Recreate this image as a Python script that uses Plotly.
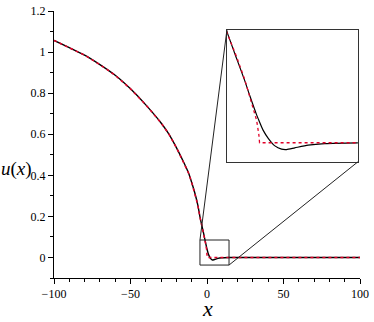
import plotly.graph_objects as go

# ---- data ----
x_black = [-100, -90, -80, -70, -60, -50, -40, -30, -25, -20, -15, -12, -10, -8, -6,
           -4.6, -3.2, -2.0, -1.26, -0.3, 0.0, 0.67, 1.4, 2.36, 3.33, 4.06, 5.26, 7.19,
           9.61, 14.4, 30, 60, 100]
u_black = [1.057, 1.022, 0.985, 0.939, 0.887, 0.821, 0.743, 0.655, 0.602, 0.535, 0.46,
           0.41, 0.365, 0.315, 0.255, 0.198, 0.150, 0.110, 0.083, 0.050, 0.041, 0.022,
           0.0079, -0.0056, -0.0114, -0.0121, -0.0091, -0.0044, -0.0016, -0.0003,
           0.0, 0.0, 0.0]

x_red = [-100, -90, -80, -70, -60, -50, -40, -30, -25, -20, -15, -12, -10, -8, -6,
         -4.6, -3.2, -2.0, -1.74, -0.78, -0.29, 0.04, 0.14, 30, 60, 100]
u_red = [1.057, 1.022, 0.985, 0.939, 0.887, 0.821, 0.743, 0.655, 0.602, 0.535, 0.46,
         0.41, 0.365, 0.315, 0.255, 0.196, 0.153, 0.112, 0.101, 0.063, 0.040, 0.014,
         0.0, 0.0, 0.0, 0.0]

x_ticks = [-100, -50, 0, 50, 100]
x_ticktext = ["\u2212100", "\u221250", "0", "50", "100"]
y_ticks = [0, 0.2, 0.4, 0.6, 0.8, 1.0, 1.2]
y_ticktext = ["0", "0.2", "0.4", "0.6", "0.8", "1", "1.2"]

x_range = [-100, 100]
y_range = [-0.1, 1.2001]
zoom_x = [-4.6, 14.4]          # zoom window (x)
zoom_box_y = [-0.037, 0.085]   # rectangle drawn on main plot
inset_y = [-0.034, 0.2]        # inset y range
inset_dom_x = [0.565, 0.993]
inset_dom_y = [0.435, 0.928]

FONT = "Liberation Serif"
RED = "rgb(225,0,40)"

fig = go.Figure()
# main plot
fig.add_trace(go.Scatter(x=x_black, y=u_black, mode="lines",
                         line=dict(color="black", width=1.4, shape="spline", smoothing=0.6),
                         showlegend=False, hoverinfo="skip"))
fig.add_trace(go.Scatter(x=x_red, y=u_red, mode="lines",
                         line=dict(color=RED, width=1.5, dash="dot"),
                         showlegend=False, hoverinfo="skip"))
# inset
fig.add_trace(go.Scatter(x=x_black, y=u_black, mode="lines", xaxis="x2", yaxis="y2",
                         line=dict(color="black", width=1.2, shape="spline", smoothing=0.6),
                         showlegend=False, hoverinfo="skip"))
fig.add_trace(go.Scatter(x=x_red, y=u_red, mode="lines", xaxis="x2", yaxis="y2",
                         line=dict(color=RED, width=1.3, dash="dot"),
                         showlegend=False, hoverinfo="skip"))

# zoom rectangle on main plot
fig.add_shape(type="rect", xref="x", yref="y",
              x0=zoom_x[0], x1=zoom_x[1], y0=zoom_box_y[0], y1=zoom_box_y[1],
              line=dict(color="#222", width=1))

# connectors: convert inset corners (paper) to main data coords
def px2x(f):
    return x_range[0] + f * (x_range[1] - x_range[0])

def py2y(f):
    return y_range[0] + f * (y_range[1] - y_range[0])

fig.add_shape(type="line", xref="x", yref="y",
              x0=zoom_x[0], y0=zoom_box_y[1],
              x1=px2x(inset_dom_x[0]), y1=py2y(inset_dom_y[1]),
              line=dict(color="#222", width=1))
fig.add_shape(type="line", xref="x", yref="y",
              x0=zoom_x[1], y0=zoom_box_y[0],
              x1=px2x(inset_dom_x[1]), y1=py2y(inset_dom_y[0]),
              line=dict(color="#222", width=1))

axis_font = dict(family=FONT, size=12, color="black")
fig.update_layout(
    width=374, height=322, autosize=False,
    margin=dict(l=54, r=14, t=11, b=44, autoexpand=False),
    paper_bgcolor="white", plot_bgcolor="white",
    font=dict(family=FONT, color="black"),
    xaxis=dict(range=x_range, tickvals=x_ticks, ticktext=x_ticktext,
               ticks="outside", ticklen=5, tickwidth=1, tickcolor="black",
               showline=True, linecolor="black", linewidth=1, automargin=False,
               showgrid=False, zeroline=False, tickfont=axis_font, ticklabeloverflow="allow",
               minor=dict(dtick=10, tick0=0, ticks="outside", ticklen=3, tickcolor="black", showgrid=False)),
    yaxis=dict(range=y_range, tickvals=y_ticks, ticktext=y_ticktext,
               ticks="outside", ticklen=5, tickwidth=1, tickcolor="black",
               showline=True, linecolor="black", linewidth=1, automargin=False,
               showgrid=False, zeroline=False, tickfont=axis_font, ticklabeloverflow="allow",
               minor=dict(dtick=0.1, tick0=0, ticks="outside", ticklen=3, tickcolor="black", showgrid=False)),
    xaxis2=dict(domain=inset_dom_x, anchor="y2", range=zoom_x, automargin=False,
                showticklabels=False, ticks="", showgrid=False, zeroline=False,
                showline=True, mirror=True, linecolor="#333", linewidth=1.3),
    yaxis2=dict(domain=inset_dom_y, anchor="x2", range=inset_y, automargin=False,
                showticklabels=False, ticks="", showgrid=False, zeroline=False,
                showline=True, mirror=True, linecolor="#333", linewidth=1.3),
    annotations=[
        dict(text="<i>u</i>(<i>x</i>)", xref="paper", yref="y", x=0, y=0.43,
             xanchor="right", yanchor="middle", xshift=-20, showarrow=False,
             font=dict(family=FONT, size=19, color="black")),
        dict(text="<i>x</i>", xref="x", yref="paper", x=0, y=0,
             xanchor="center", yanchor="top", yshift=-16, showarrow=False,
             font=dict(family=FONT, size=22, color="black")),
    ],
)

# remove the page's default 8px body margin so the 374x322 figure fills the window
fig.write_html("out.html",
               config={"displayModeBar": False, "responsive": False},
               post_script="document.body.style.margin='0';document.body.style.overflow='hidden';")
